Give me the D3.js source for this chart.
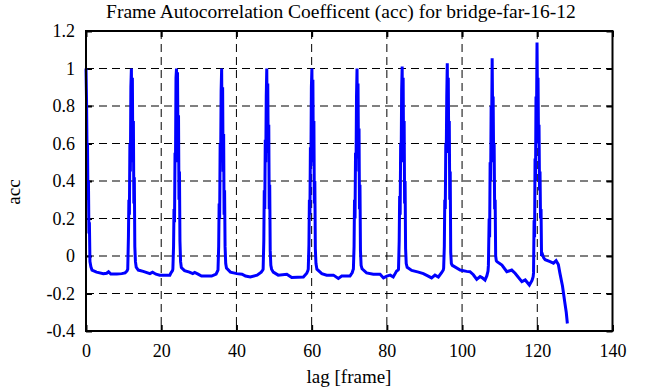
<!DOCTYPE html>
<html>
<head>
<meta charset="utf-8">
<script src="https://cdn.jsdelivr.net/npm/d3@7"></script>
<style>
    body { margin: 0; background: #fff; }
    svg { display: block; }
</style>
</head>
<body>
<svg id="chart" width="656" height="387"></svg>
<script>
// chart text
var chartTitle = "Frame Autocorrelation Coefficent (acc) for bridge-far-16-12";
var xTitle = "lag [frame]";
var yTitle = "acc";

// tick values
var xTicks = [0, 20, 40, 60, 80, 100, 120, 140];
var yTicks = [-0.4, -0.2, 0, 0.2, 0.4, 0.6, 0.8, 1, 1.2];

// [lag, acc] samples
var accSeries = [
    [0, 1.0], [0.15, 0.82], [0.28, 0.55], [0.4, 0.6], [0.52, 0.3], [0.65, 0.4], [0.78, 0.12], [0.9, 0.18], [1.05, -0.03], [1.3, -0.058],
    [1.6, -0.075], [2.8, -0.086], [4.6, -0.094], [5.5, -0.092], [6.0, -0.084], [6.6, -0.096], [8.2, -0.096], [9.5, -0.094], [10.4, -0.09], [10.9, -0.08],
    [11.1, -0.07], [11.28, 0.1], [11.4, 0.3], [11.54, 0.22], [11.67, 0.6], [11.8, 0.45], [11.93, 0.9], [12.07, 1.0], [12.2, 0.62], [12.33, 0.95],
    [12.46, 0.5], [12.6, 0.72], [12.72, 0.28], [12.85, 0.42], [12.98, 0.05], [13.15, -0.03], [13.35, -0.06],
    [13.9, -0.075], [15.2, -0.082], [17.0, -0.094], [17.7, -0.086], [18.6, -0.097], [19.6, -0.102], [22.3, -0.102], [22.6, -0.09], [23.0, -0.078],
    [23.1, -0.07], [23.28, 0.05], [23.4, 0.25], [23.54, 0.18], [23.67, 0.55], [23.8, 0.5], [23.93, 0.95], [24.07, 1.0], [24.2, 0.5], [24.33, 0.98],
    [24.46, 0.6], [24.6, 0.75], [24.72, 0.3], [24.85, 0.45], [24.98, 0.08], [25.15, -0.03], [25.35, -0.062],
    [26.2, -0.078], [27.5, -0.086], [28.4, -0.094], [28.9, -0.088], [29.8, -0.097], [30.7, -0.107], [33.4, -0.107], [34.6, -0.096], [35.0, -0.08],
    [35.1, -0.075], [35.28, 0.05], [35.4, 0.28], [35.54, 0.2], [35.67, 0.6], [35.8, 0.5], [35.93, 0.88], [36.07, 1.0], [36.2, 0.55], [36.33, 0.9],
    [36.46, 0.45], [36.6, 0.65], [36.72, 0.22], [36.85, 0.35], [36.98, 0.05], [37.15, -0.04], [37.35, -0.064],
    [38.4, -0.086], [40.1, -0.094], [41.5, -0.097], [42.4, -0.107], [43.7, -0.112], [45.5, -0.102], [46.6, -0.086], [47.0, -0.075],
    [47.1, -0.07], [47.28, 0.08], [47.4, 0.35], [47.54, 0.25], [47.67, 0.62], [47.8, 0.5], [47.93, 0.85], [48.07, 1.0], [48.2, 0.6], [48.33, 0.92],
    [48.46, 0.55], [48.6, 0.7], [48.72, 0.25], [48.85, 0.38], [48.98, 0.03], [49.15, -0.05], [49.35, -0.07],
    [49.8, -0.086], [51.1, -0.102], [53.4, -0.097], [54.7, -0.115], [57.8, -0.112], [58.7, -0.092], [59.0, -0.078],
    [59.1, -0.07], [59.28, 0.06], [59.4, 0.3], [59.54, 0.22], [59.67, 0.58], [59.8, 0.48], [59.93, 0.9], [60.07, 1.0], [60.2, 0.62], [60.33, 0.94],
    [60.46, 0.5], [60.6, 0.72], [60.72, 0.28], [60.85, 0.4], [60.98, 0.04], [61.15, -0.04], [61.4, -0.07],
    [62.7, -0.094], [64.0, -0.102], [65.8, -0.102], [67.1, -0.12], [68.0, -0.107], [70.2, -0.107], [70.8, -0.088], [71.0, -0.075],
    [71.1, -0.07], [71.28, 0.05], [71.4, 0.3], [71.54, 0.2], [71.67, 0.55], [71.8, 0.45], [71.93, 0.85], [72.07, 1.0], [72.2, 0.6], [72.33, 0.92],
    [72.46, 0.52], [72.6, 0.68], [72.72, 0.25], [72.85, 0.38], [72.98, 0.03], [73.15, -0.05], [73.4, -0.068],
    [74.6, -0.09], [76.4, -0.097], [78.2, -0.097], [79.1, -0.117], [80.0, -0.107], [80.9, -0.102], [81.7, -0.112], [82.2, -0.094], [82.6, -0.08], [83.0, -0.075],
    [83.1, -0.07], [83.28, 0.08], [83.4, 0.32], [83.54, 0.22], [83.67, 0.6], [83.8, 0.5], [83.93, 0.88], [84.07, 1.01], [84.2, 0.6], [84.33, 0.95],
    [84.46, 0.5], [84.6, 0.72], [84.72, 0.28], [84.85, 0.4], [84.98, 0.04], [85.15, -0.04], [85.4, -0.06],
    [86.6, -0.077], [88.4, -0.086], [89.7, -0.094], [91.0, -0.107], [91.9, -0.117], [92.8, -0.102], [93.7, -0.112], [94.6, -0.088], [95.0, -0.075],
    [95.1, -0.065], [95.28, 0.05], [95.4, 0.3], [95.54, 0.25], [95.67, 0.6], [95.8, 0.55], [95.93, 0.85], [96.07, 1.028], [96.2, 0.65], [96.33, 0.95],
    [96.46, 0.55], [96.6, 0.72], [96.72, 0.3], [96.85, 0.45], [96.98, 0.02], [97.15, -0.04], [97.4, -0.05],
    [99.5, -0.075], [101.2, -0.082], [102.1, -0.084], [103.0, -0.1], [103.9, -0.125], [104.8, -0.11], [105.3, -0.115], [106.1, -0.128], [106.6, -0.105], [106.9, -0.08],
    [107.0, -0.05], [107.2, 0.2], [107.33, 0.1], [107.46, 0.5], [107.6, 0.4], [107.73, 0.8], [107.86, 0.7], [108.0, 1.054], [108.13, 0.75], [108.26, 0.85],
    [108.4, 0.5], [108.53, 0.6], [108.66, 0.25], [108.8, 0.3], [108.93, 0.0], [109.1, -0.025], [109.3, -0.03],
    [110.6, -0.048], [111.9, -0.084], [113.2, -0.075], [114.1, -0.092], [115.9, -0.137], [116.8, -0.128], [117.9, -0.155], [118.6, -0.13], [118.9, -0.11],
    [119.0, -0.09], [119.15, 0.19], [119.28, 0.1], [119.4, 0.52], [119.53, 0.4], [119.66, 0.85], [119.8, 0.75], [119.93, 1.138], [120.06, 0.8], [120.2, 0.95],
    [120.33, 0.6], [120.46, 0.7], [120.6, 0.35], [120.73, 0.45], [120.86, 0.2], [121.0, 0.25], [121.13, 0.0], [121.35, 0.01], [121.7, -0.01],
    [122.1, -0.02], [123.4, -0.03], [124.3, -0.038], [125.0, -0.025], [125.6, -0.045], [126.0, -0.09], [126.7, -0.16], [127.3, -0.245], [127.7, -0.3], [128.0, -0.36]
];

var w = 656;
var h = 387;
var plotLeft = 86, plotRight = 612.5, plotTop = 31, plotBottom = 331;
var font = "'Liberation Serif', 'Times New Roman', serif";

var svg = d3.select('#chart');

svg.append('rect')
    .attr('width', w)
    .attr('height', h)
    .attr('fill', '#fff');

var xScale = d3.scaleLinear()
    .domain([0, 140])
    .range([plotLeft, plotRight]);

var yScale = d3.scaleLinear()
    .domain([-0.4, 1.2])
    .range([plotBottom, plotTop]);

// dashed grid
svg.append('g')
    .selectAll('line')
    .data(xTicks.slice(1, -1))
    .enter()
    .append('line')
    .attr('x1', function (d) { return xScale(d); })
    .attr('x2', function (d) { return xScale(d); })
    .attr('y1', plotTop)
    .attr('y2', plotBottom)
    .attr('stroke', '#000')
    .attr('stroke-width', 1)
    .attr('stroke-dasharray', '8,5');

svg.append('g')
    .selectAll('line')
    .data(yTicks.slice(1, -1))
    .enter()
    .append('line')
    .attr('x1', plotLeft)
    .attr('x2', plotRight)
    .attr('y1', function (d) { return yScale(d); })
    .attr('y2', function (d) { return yScale(d); })
    .attr('stroke', '#000')
    .attr('stroke-width', 1)
    .attr('stroke-dasharray', '8,5');

// axes with inward ticks on all four sides
var tick = 6;

svg.append('g')
    .attr('transform', 'translate(0,' + plotBottom + ')')
    .call(d3.axisBottom(xScale).tickValues(xTicks).tickSize(-tick).tickPadding(13)
        .tickFormat(d3.format('d')));

svg.append('g')
    .attr('transform', 'translate(0,' + plotTop + ')')
    .call(d3.axisTop(xScale).tickValues(xTicks).tickSize(-tick).tickFormat(''));

svg.append('g')
    .attr('transform', 'translate(' + plotLeft + ',0)')
    .call(d3.axisLeft(yScale).tickValues(yTicks).tickSize(-tick).tickPadding(11)
        .tickFormat(function (d) { return String(+d.toFixed(1)); }));

svg.append('g')
    .attr('transform', 'translate(' + plotRight + ',0)')
    .call(d3.axisRight(yScale).tickValues(yTicks).tickSize(-tick).tickFormat(''));

svg.selectAll('.domain').remove();
svg.selectAll('g')
    .attr('font-family', null)
    .attr('font-size', null);
svg.selectAll('.tick line')
    .attr('stroke', '#000')
    .attr('stroke-width', 2);
svg.selectAll('.tick text')
    .style('font-family', font)
    .style('font-size', '18px')
    .attr('fill', '#000');

// data line
var line = d3.line()
    .x(function (d) { return xScale(d[0]); })
    .y(function (d) { return yScale(d[1]); });

svg.append('path')
    .datum(accSeries)
    .attr('d', line)
    .attr('fill', 'none')
    .attr('stroke', '#0000ff')
    .attr('stroke-width', 3)
    .attr('stroke-linejoin', 'miter');

// border
svg.append('rect')
    .attr('x', plotLeft)
    .attr('y', plotTop)
    .attr('width', plotRight - plotLeft)
    .attr('height', plotBottom - plotTop)
    .attr('fill', 'none')
    .attr('stroke', '#000')
    .attr('stroke-width', 2);

// titles
svg.append('text')
    .text(chartTitle)
    .attr('x', 341)
    .attr('y', 18)
    .attr('text-anchor', 'middle')
    .style('font-family', font)
    .style('font-size', '19.5px')
    .attr('fill', '#000');

svg.append('text')
    .text(xTitle)
    .attr('x', 349)
    .attr('y', 383)
    .attr('text-anchor', 'middle')
    .style('font-family', font)
    .style('font-size', '19px')
    .attr('fill', '#000');

svg.append('text')
    .text(yTitle)
    .attr('transform', 'translate(20,192) rotate(-90)')
    .attr('text-anchor', 'middle')
    .style('font-family', font)
    .style('font-size', '19px')
    .attr('fill', '#000');
</script>
</body>
</html>
